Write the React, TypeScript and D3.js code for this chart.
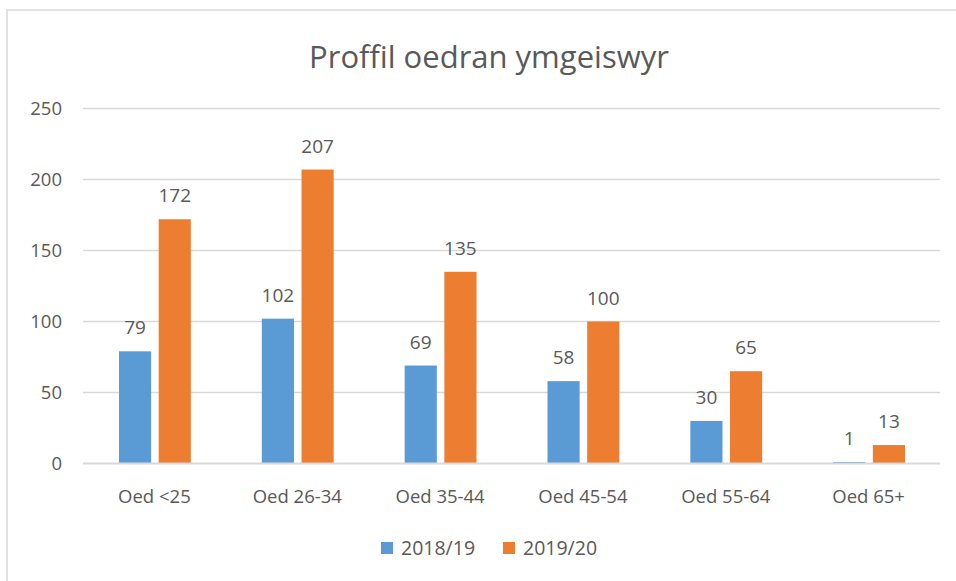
import * as d3 from "d3";

const categories = ["Oed <25", "Oed 26-34", "Oed 35-44", "Oed 45-54", "Oed 55-64", "Oed 65+"];
const seriesNames = ["2018/19", "2019/20"];
const values1819 = [79, 102, 69, 58, 30, 1];
const values1920 = [172, 207, 135, 100, 65, 13];
const yTicks = [0, 50, 100, 150, 200, 250];

const colors = ["#5B9BD5", "#ED7D31"];
const textColor = "#595959";
const font = "'Open Sans', 'Noto Sans', sans-serif";

const W = 956;
const H = 581;

const App = () => {
  const series = [values1819, values1920];

  const x = d3.scaleBand<string>().domain(categories).range([83, 940]).paddingInner(0).paddingOuter(0);
  const x1 = d3
    .scaleBand<number>()
    .domain([0, 1])
    .range([36, x.bandwidth() - 35])
    .paddingInner(0.19);
  const y = d3.scaleLinear().domain([0, 250]).range([463.5, 108.5]);

  return (
    <svg
      width={W}
      height={H}
      style={{ position: "absolute", left: 0, top: 0, background: "#fff" }}
    >
      <rect x={7} y={10} width={W} height={H} fill="#fff" stroke="#D9D9D9" strokeWidth={1.5} />

      <text
        x={489}
        y={68}
        textAnchor="middle"
        fontFamily={font}
        fontSize={31}
        fill={textColor}
      >
        Proffil oedran ymgeiswyr
      </text>

      {/* gridlines */}
      <g>
        {yTicks.slice(1).map((t) => (
          <line key={t} x1={83} x2={940} y1={y(t)} y2={y(t)} stroke="#D9D9D9" strokeWidth={1.3} />
        ))}
      </g>

      {/* y labels */}
      <g fontFamily={font} fontSize={18.5} fill={textColor} textAnchor="end">
        {yTicks.map((t) => (
          <text key={t} x={62} y={y(t)} dy="0.35em">
            {t}
          </text>
        ))}
      </g>

      {/* bars */}
      {categories.map((c, i) => (
        <g key={c} transform={`translate(${x(c)},0)`}>
          {series.map((s, j) => (
            <g key={j}>
              <rect
                x={x1(j)}
                y={y(s[i])}
                width={x1.bandwidth()}
                height={y(0) - y(s[i])}
                fill={colors[j]}
              />
              <text
                x={x1(j)! + x1.bandwidth() / 2}
                y={y(s[i]) - 17}
                textAnchor="middle"
                fontFamily={font}
                fontSize={19}
                fill={textColor}
              >
                {s[i]}
              </text>
            </g>
          ))}
          <text
            x={x.bandwidth() / 2}
            y={503}
            textAnchor="middle"
            fontFamily={font}
            fontSize={18.5}
            fill={textColor}
          >
            {c}
          </text>
        </g>
      ))}

      {/* category axis line over the bars */}
      <line x1={83} x2={940} y1={y(0)} y2={y(0)} stroke="#D9D9D9" strokeWidth={2} />

      {/* legend */}
      <g fontFamily={font} fontSize={19.5} fill={textColor}>
        {seriesNames.map((n, j) => (
          <g key={n} transform={`translate(${381 + j * 122},542)`}>
            <rect width={12} height={12} fill={colors[j]} />
            <text x={20} y={13}>
              {n}
            </text>
          </g>
        ))}
      </g>
    </svg>
  );
};

export default App;
